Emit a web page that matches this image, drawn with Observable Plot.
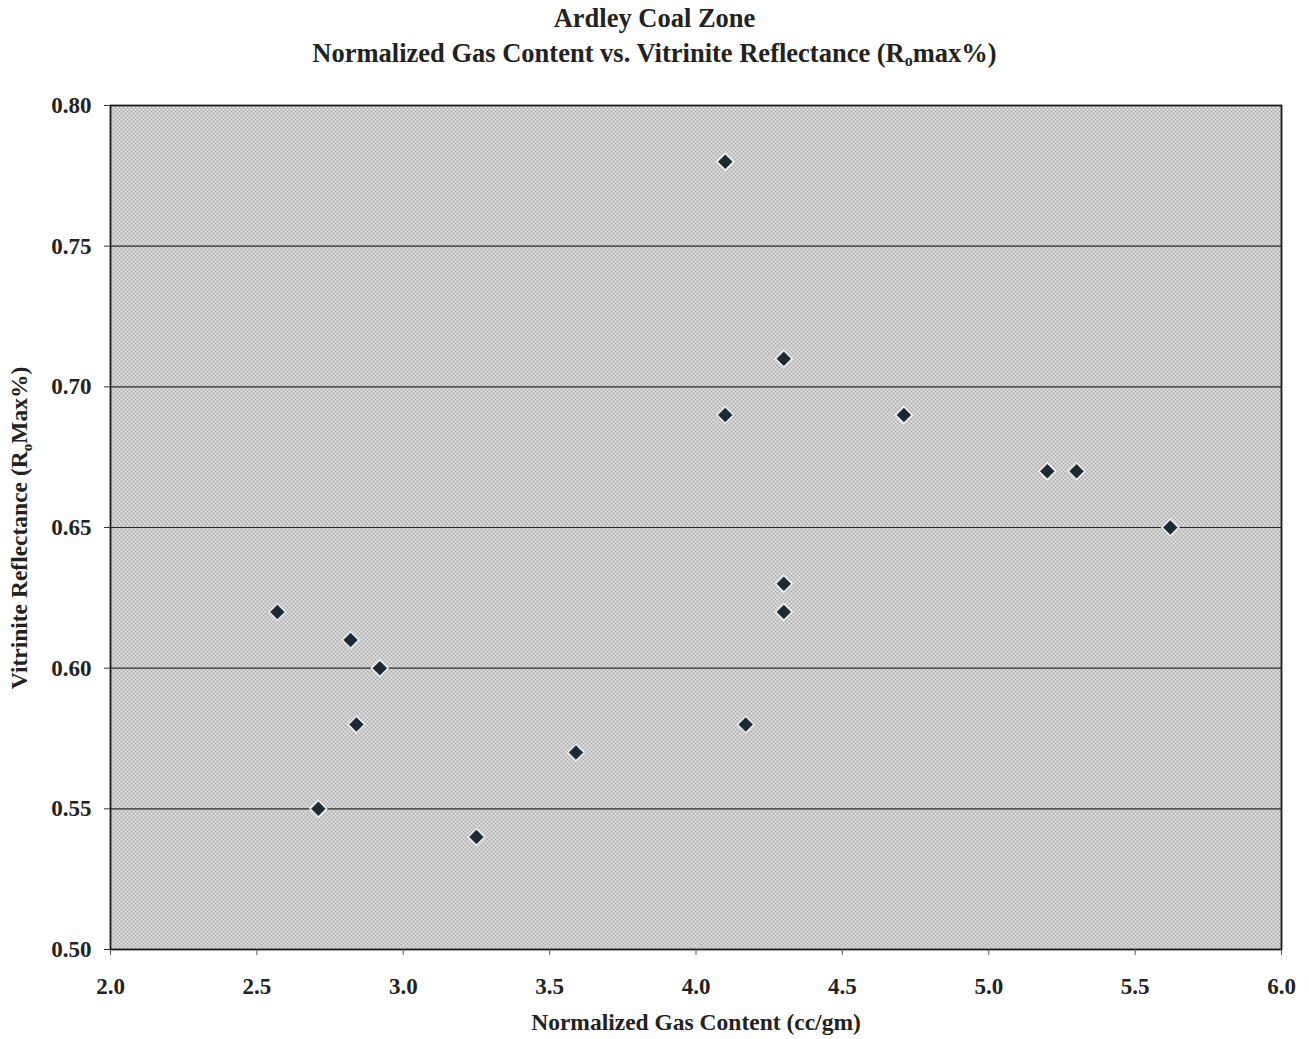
<!DOCTYPE html>
<html><head><meta charset="utf-8">
<script src="https://cdn.jsdelivr.net/npm/d3@7"></script>
<script src="https://cdn.jsdelivr.net/npm/@observablehq/plot@0.6"></script>
<style>
body{margin:0;background:#fff;font-family:"Liberation Serif","Times New Roman",serif;}
#title{width:1309px;height:80px;text-align:center;font-weight:bold;font-size:26.5px;color:#222;line-height:35px;padding-top:1px;box-sizing:border-box;}
#title sub{font-size:16px;vertical-align:-4px;line-height:0;}
</style></head>
<body>
<div id="title">Ardley Coal Zone<br>Normalized Gas Content vs. Vitrinite Reflectance (R<sub>o</sub>max%)</div>
<div id="chart"></div>
<script>
const gasContent = [2.57, 2.82, 2.92, 2.84, 2.71, 3.25, 3.59, 4.10, 4.30, 4.10, 4.71, 5.20, 5.30, 5.62, 4.30, 4.30, 4.17];
const reflectance = [0.62, 0.61, 0.60, 0.58, 0.55, 0.54, 0.57, 0.78, 0.71, 0.69, 0.69, 0.67, 0.67, 0.65, 0.63, 0.62, 0.58];
const xTicks = [2.0, 2.5, 3.0, 3.5, 4.0, 4.5, 5.0, 5.5, 6.0];
const yTicks = [0.50, 0.55, 0.60, 0.65, 0.70, 0.75, 0.80];
const gridValues = [0.55, 0.60, 0.65, 0.70, 0.75];
const xLabel = "Normalized Gas Content (cc/gm)";

const data = gasContent.map((g, i) => ({g, r: reflectance[i]}));

const defs = () => {
  const d = d3.create("svg:defs");
  const p = d.append("pattern").attr("id", "dots").attr("width", 4).attr("height", 4).attr("patternUnits", "userSpaceOnUse");
  p.append("rect").attr("width", 4).attr("height", 4).attr("fill", "#eaeaea");
  p.append("rect").attr("width", 2).attr("height", 2).attr("fill", "#a8a8a8");
  p.append("rect").attr("x", 2).attr("y", 2).attr("width", 2).attr("height", 2).attr("fill", "#a8a8a8");
  return d.node();
};

const chart = Plot.plot({
  width: 1309,
  height: 959,
  marginLeft: 110,
  marginRight: 28,
  marginTop: 25,
  marginBottom: 90,
  style: {fontFamily: "Liberation Serif, Times New Roman, serif", fontSize: "23px", fontWeight: "bold", color: "#222", background: "#fff"},
  x: {domain: [2, 6]},
  y: {domain: [0.5, 0.8]},
  marks: [
    defs,
    Plot.frame({fill: "url(#dots)", stroke: "none"}),
    Plot.ruleY(gridValues, {stroke: "#2a2a2a", strokeWidth: 1.1}),
    Plot.frame({stroke: "#1a1a1a", strokeWidth: 1.8}),
    Plot.axisX({ticks: xTicks, tickFormat: ".1f", tickSize: 6, tickPadding: 22, label: null, stroke: "#555"}),
    Plot.axisY({ticks: yTicks, tickFormat: ".2f", tickSize: 6, tickPadding: 13, label: null, stroke: "#333"}),
    Plot.dot(data, {x: "g", y: "r", symbol: "diamond2", r: 8.5, fill: "#f0f0f0", stroke: "none"}),
    Plot.dot(data, {x: "g", y: "r", symbol: "diamond2", r: 6.3, fill: "#1c2b33", stroke: "#1c2b33", strokeWidth: 0.5}),
    Plot.text([xLabel], {frameAnchor: "bottom", dy: 80, fontSize: 23.5, fontWeight: "bold", fill: "#222"})
  ]
});

// y-axis label with subscript
const svg = d3.select(chart);
const yl = svg.append("text")
  .attr("transform", "translate(27,448) rotate(-90)")
  .attr("text-anchor", "middle")
  .attr("font-size", 23.5).attr("font-weight", "bold").attr("fill", "#222");
yl.append("tspan").text("Vitrinite Reflectance (R");
yl.append("tspan").attr("font-size", 15).attr("dy", 5).text("o");
yl.append("tspan").attr("dy", -5).text("Max%)");

document.getElementById("chart").appendChild(chart);
</script>
</body></html>
